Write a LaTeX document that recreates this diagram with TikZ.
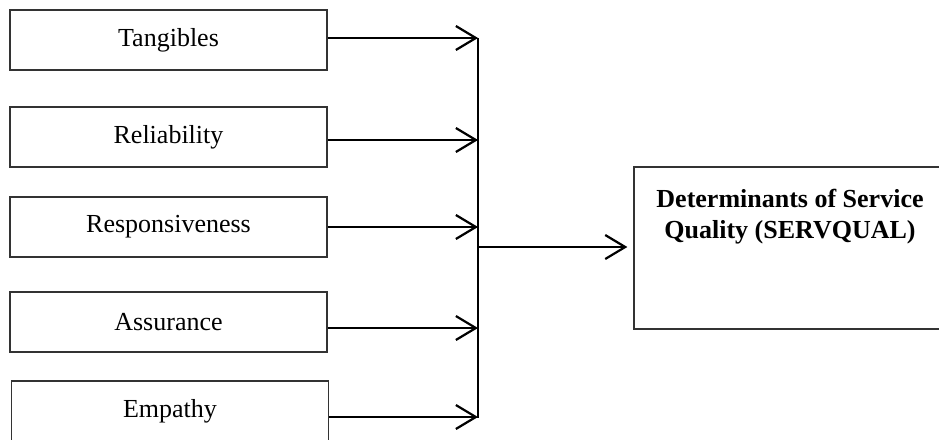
\documentclass[tikz,border=0pt]{standalone}
\usepackage{fontspec}
\setmainfont{Liberation Serif}
\usetikzlibrary{arrows.meta}
\begin{document}
\begin{tikzpicture}[x=1pt,y=-1pt,
  inbox/.style={draw=black!80, line width=1.3pt, rectangle, minimum width=317pt, minimum height=60pt, inner sep=0pt, font=\fontsize{26}{32}\selectfont},
  conn/.style={line width=2.2pt, -{Straight Barb[length=20pt,width=24pt,line width=2.2pt]}},
  bus/.style={line width=2.2pt}]
\useasboundingbox (0,0) rectangle (939,439);
\clip (0,0) rectangle (939,439);
\node[inbox] (t1) at (168.5,40) {Tangibles};
\node[inbox] (t2) at (168.5,137) {Reliability};
\node[inbox] (t3) at (168.5,227) {Responsiveness};
\node[inbox] (t4) at (168.5,322) {Assurance};
\node[inbox] (t5) at (170,411) {Empathy};
\node[draw=black!80, line width=1.3pt, rectangle, minimum width=310pt, minimum height=162pt, inner sep=0pt] (r) at (789,248) {};
\node[anchor=north, inner sep=0pt, align=center, font=\fontsize{26}{31}\selectfont\bfseries] (rt) at (790,189) {Determinants of Service\\Quality (SERVQUAL)};
\coordinate (b1) at (478,38);
\coordinate (b5) at (478,418);
\coordinate (bm) at (478,247);
\draw[bus] (b1) -- (b5);
\draw[conn] ([yshift=2pt]t1.east) -- ([yshift=2pt]t1.east -| b1);
\draw[conn] ([yshift=-3pt]t2.east) -- ([yshift=-3pt]t2.east -| b1);
\draw[conn] (t3.east) -- (t3.east -| b1);
\draw[conn] ([yshift=-6pt]t4.east) -- ([yshift=-6pt]t4.east -| b1);
\draw[conn] ([yshift=-6pt]t5.east) -- ([yshift=-6pt]t5.east -| b1);
\draw[conn] (bm) -- ([xshift=-6pt]r.west |- bm);
\end{tikzpicture}
\end{document}
